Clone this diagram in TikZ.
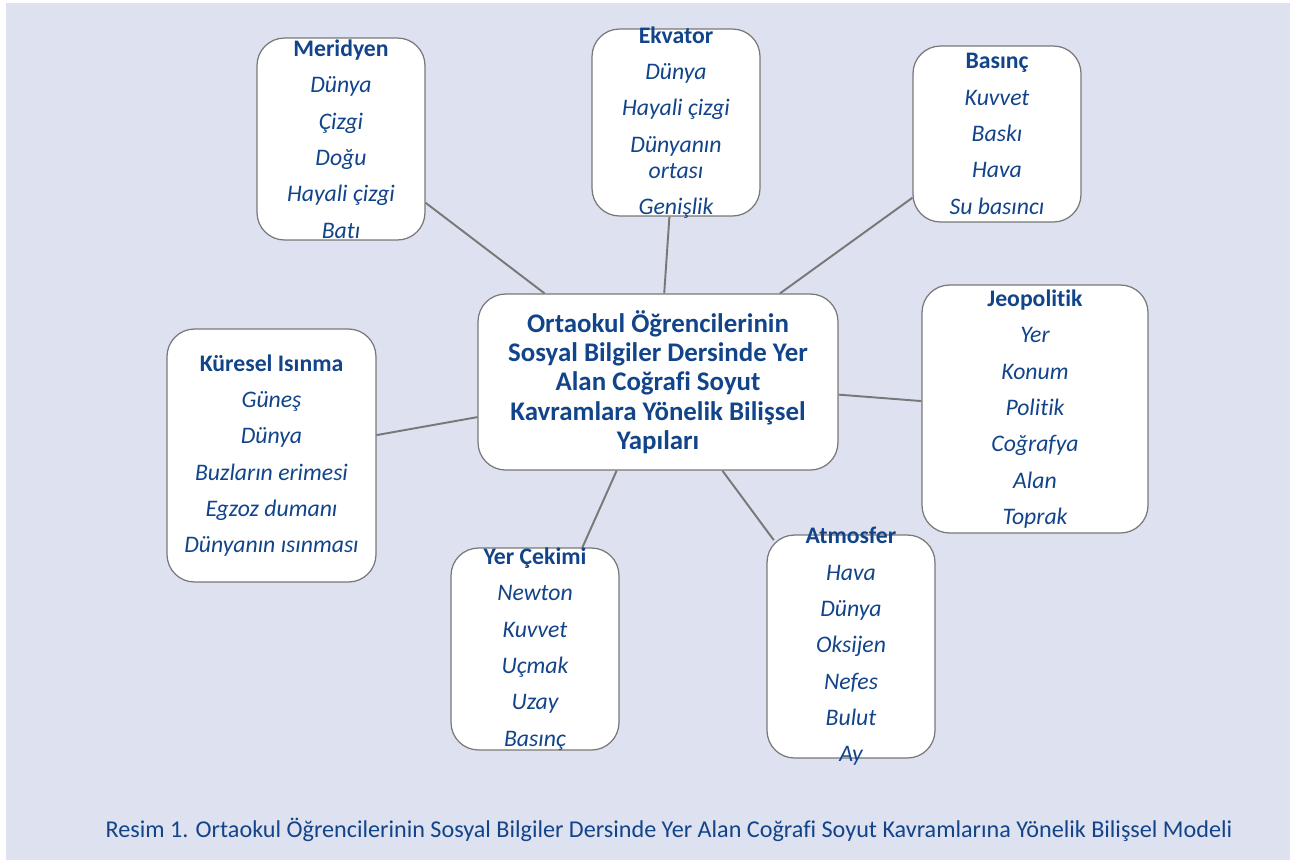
\documentclass[tikz,border=0pt]{standalone}
\usepackage{fontspec}
\setmainfont{Carlito}[Ligatures={NoCommon}]
\definecolor{bgblue}{RGB}{222,225,239}
\definecolor{txtblue}{RGB}{18,68,138}
\definecolor{edgegray}{RGB}{120,120,120}
\tikzset{
  box/.style={draw=edgegray, line width=0.7pt, fill=white, rounded corners=0.55cm, inner sep=0pt},
  items/.style={align=center, inner sep=0pt, text=txtblue, font=\fontsize{13.5}{14.7}\selectfont\itshape},
  hub/.style={align=center, inner sep=0pt, text=txtblue, font=\fontsize{15.3}{16.7}\selectfont\bfseries},
  link/.style={draw=edgegray, line width=1.1pt}
}
\newcommand{\ttl}[1]{\textbf{\upshape #1}}
\begin{document}
\begin{tikzpicture}[x=0.02cm, y=-0.02cm]
  \fill[white] (0,0) rectangle (1290,860);
  \fill[bgblue] (6,3) rectangle (1290,860);
  % boxes
  \node[box, minimum width=7.2cm, minimum height=3.52cm] (cen) at (658,382) {};
  \node[box, minimum width=3.36cm, minimum height=4.04cm] (mer) at (341,139) {};
  \node[box, minimum width=3.36cm, minimum height=3.74cm] (ekv) at (676,122.5) {};
  \node[box, minimum width=3.36cm, minimum height=3.52cm] (bas) at (997,134) {};
  \node[box, minimum width=4.52cm, minimum height=4.96cm] (jeo) at (1035,409) {};
  \node[box, minimum width=3.36cm, minimum height=4.46cm] (atm) at (851,646.5) {};
  \node[box, minimum width=3.36cm, minimum height=4.04cm] (yer) at (535,649) {};
  \node[box, minimum width=4.18cm, minimum height=5.06cm] (kur) at (271.5,455.5) {};
  % connectors
  \draw[link] (mer.-37) -- (cen.142);
  \draw[link] (ekv.-94.6) -- (cen.86);
  \draw[link] (bas.-143) -- (cen.36);
  \draw[link] (jeo.176.5) -- (cen.-4);
  \draw[link, shorten <=-4pt] (atm.126.5) -- (cen.-54);
  \draw[link] (yer.65) -- (cen.-115);
  \draw[link] (kur.11) -- (cen.-169);
  % texts
  \node[hub] (cen-t) at (cen) {Ortaokul Öğrencilerinin\\Sosyal Bilgiler Dersinde Yer\\Alan Coğrafi Soyut\\Kavramlara Yönelik Bilişsel\\Yapıları};
  \node[items] (mer-t) at (mer) {\ttl{Meridyen}\\[6pt]Dünya\\[6pt]Çizgi\\[6pt]Doğu\\[6pt]Hayali çizgi\\[6pt]Batı};
  \node[items] (ekv-t) at (ekv) {\ttl{Ekvator}\\[6pt]Dünya\\[6pt]Hayali çizgi\\[6pt]Dünyanın\\ortası\\[6pt]Genişlik};
  \node[items] (bas-t) at (bas) {\ttl{Basınç}\\[6pt]Kuvvet\\[6pt]Baskı\\[6pt]Hava\\[6pt]Su basıncı};
  \node[items] (jeo-t) at (jeo) {\ttl{Jeopolitik}\\[6pt]Yer\\[6pt]Konum\\[6pt]Politik\\[6pt]Coğrafya\\[6pt]Alan\\[6pt]Toprak};
  \node[items] (atm-t) at (atm) {\ttl{Atmosfer}\\[6pt]Hava\\[6pt]Dünya\\[6pt]Oksijen\\[6pt]Nefes\\[6pt]Bulut\\[6pt]Ay};
  \node[items] (yer-t) at (yer) {\ttl{Yer Çekimi}\\[6pt]Newton\\[6pt]Kuvvet\\[6pt]Uçmak\\[6pt]Uzay\\[6pt]Basınç};
  \node[items] (kur-t) at (kur) {\ttl{Küresel Isınma}\\[6pt]Güneş\\[6pt]Dünya\\[6pt]Buzların erimesi\\[6pt]Egzoz dumanı\\[6pt]Dünyanın ısınması};
  % caption
  \node[text=txtblue, font=\fontsize{13.75}{16}\selectfont] (cap) at (669,830) {Resim 1. Ortaokul Öğrencilerinin Sosyal Bilgiler Dersinde Yer Alan Coğrafi Soyut Kavramlarına Yönelik Bilişsel Modeli};
\end{tikzpicture}
\end{document}
